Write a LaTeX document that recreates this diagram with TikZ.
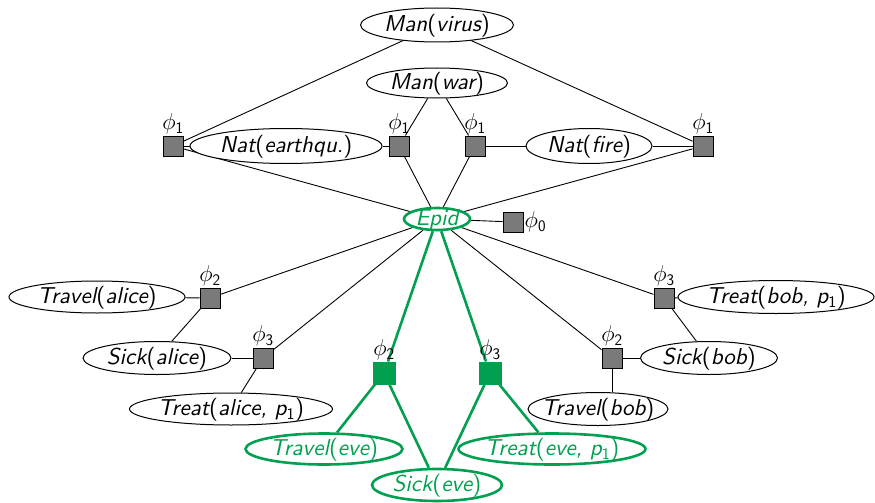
\RequirePackage{fix-cm}
\documentclass[tikz,border=0pt]{standalone}
\usepackage{fontspec}
\newfontfamily\lmsx[ItalicFont=lmsans10-oblique.otf]{lmsans10-regular.otf}
\usetikzlibrary{shapes.geometric,backgrounds}
\definecolor{eg}{RGB}{0,160,80}
\newcommand{\vtxt}[1]{\raisebox{-0.3em}[0pt][0pt]{\makebox[0pt]{#1}}}
\newcommand{\vlab}[2]{\vtxt{\itshape #1\upshape(\itshape #2\upshape)}}
\newcommand{\pone}{p\textsubscript{\upshape 1}}
\tikzset{
  var/.style={ellipse, draw, fill=white, line width=1pt, inner sep=0pt},
  gvar/.style={var, draw=eg, text=eg, line width=2.6pt},
  fac/.style={rectangle, draw, fill=black!52, minimum size=20pt, inner sep=0pt, line width=1pt},
  gfac/.style={fac, draw=eg, fill=eg, minimum size=22pt},
  flab/.style={inner sep=1pt},
  edge/.style={line width=0.9pt},
  gedge/.style={draw=eg, line width=2.6pt}
}
\begin{document}
\begin{tikzpicture}[x=1pt,y=-1pt,font=\fontsize{23}{27}\selectfont\lmsx]
\useasboundingbox (0,0) rectangle (875,503);
% variables
\node[var, minimum width=153pt, minimum height=34pt] (mv) at (437,25) {\vlab{Man}{virus}};
\node[var, minimum width=141pt, minimum height=30pt] (mw) at (437,83) {\vlab{Man}{war}};
\node[var, minimum width=192pt, minimum height=35pt] (ne) at (286,146) {\vlab{Nat}{earthqu.}};
\node[var, minimum width=126pt, minimum height=35pt] (nf) at (589,146) {\vlab{Nat}{fire}};
\node[gvar, minimum width=66pt, minimum height=22pt] (ep) at (437,219) {\vtxt{\itshape Epid}};
\node[var, minimum width=176pt, minimum height=32pt] (ta) at (97,297) {\vlab{Travel}{alice}};
\node[var, minimum width=148pt, minimum height=33pt] (sa) at (157,358) {\vlab{Sick}{alice}};
\node[var, minimum width=203pt, minimum height=32pt] (tra) at (231,409) {\vlab{Treat}{alice, \pone}};
\node[var, minimum width=196pt, minimum height=33pt] (trb) at (776,297) {\vlab{Treat}{bob, \pone}};
\node[var, minimum width=137pt, minimum height=33pt] (sb) at (709,358) {\vlab{Sick}{bob}};
\node[var, minimum width=140pt, minimum height=33pt] (tb) at (598,409) {\vlab{Travel}{bob}};
\node[gvar, minimum width=157pt, minimum height=31pt] (te) at (324,449) {\vlab{Travel}{eve}};
\node[gvar, minimum width=187pt, minimum height=31pt] (tre) at (552,449) {\vlab{Treat}{eve, \pone}};
\node[gvar, minimum width=130pt, minimum height=32pt] (se) at (437,485) {\vlab{Sick}{eve}};
% factors
\node[fac, label={[flab]above:$\phi_{\mathsf{1}}$}] (f1a) at (173,146) {};
\node[fac, label={[flab]above:$\phi_{\mathsf{1}}$}] (f1b) at (399,146) {};
\node[fac, label={[flab]above:$\phi_{\mathsf{1}}$}] (f1c) at (475,146) {};
\node[fac, label={[flab]above:$\phi_{\mathsf{1}}$}] (f1d) at (703,146) {};
\node[fac, label={[flab]right:$\phi_{\mathsf{0}}$}] (f0) at (513,222) {};
\node[fac, label={[flab]above:$\phi_{\mathsf{2}}$}] (f2a) at (210,298) {};
\node[fac, label={[flab]above:$\phi_{\mathsf{3}}$}] (f3a) at (263,358) {};
\node[fac, label={[flab]above:$\phi_{\mathsf{3}}$}] (f3b) at (664,298) {};
\node[fac, label={[flab]above:$\phi_{\mathsf{2}}$}] (f2b) at (612,358) {};
\node[gfac, label={[flab]above:$\phi_{\mathsf{2}}$}] (g2) at (384,373) {};
\node[gfac, label={[flab]above:$\phi_{\mathsf{3}}$}] (g3) at (490,373) {};
% edges
\begin{scope}[on background layer]
\draw[edge] (mv) -- (f1a);
\draw[edge] (mv) -- (f1d);
\draw[edge] (mw) -- (f1b);
\draw[edge] (mw) -- (f1c);
\draw[edge] (ne) -- (f1a);
\draw[edge] (ne) -- (f1b);
\draw[edge] (nf) -- (f1c);
\draw[edge] (nf) -- (f1d);
\draw[edge] (ep) -- (f1a);
\draw[edge] (ep) -- (f1b);
\draw[edge] (ep) -- (f1c);
\draw[edge] (ep) -- (f1d);
\draw[edge] (ep) -- (f0);
\draw[edge] (ep) -- (f2a);
\draw[edge] (ep) -- (f3a);
\draw[edge] (ep) -- (f3b);
\draw[edge] (ep) -- (f2b);
\draw[edge] (f2a) -- (ta);
\draw[edge] (f2a) -- (sa);
\draw[edge] (f3a) -- (sa);
\draw[edge] (f3a) -- (tra);
\draw[edge] (f3b) -- (trb);
\draw[edge] (f3b) -- (sb);
\draw[edge] (f2b) -- (sb);
\draw[edge] (f2b.south) -- (f2b.south |- tb.north);
\draw[gedge] (ep) -- (g2);
\draw[gedge] (ep) -- (g3);
\draw[gedge] (g2) -- (te);
\draw[gedge] (g2) -- (se);
\draw[gedge] (g3) -- (se);
\draw[gedge] (g3) -- (tre);
\end{scope}
\end{tikzpicture}
\end{document}
